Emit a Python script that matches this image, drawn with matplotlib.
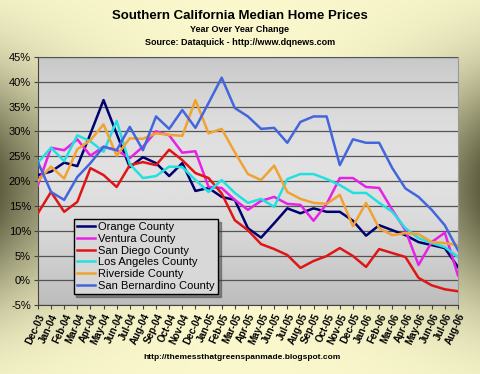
import numpy as np
import matplotlib
matplotlib.use("Agg")
import matplotlib.pyplot as plt

plt.rcParams['font.family'] = ['Liberation Sans', 'DejaVu Sans']

months = ['Dec-03', 'Jan-04', 'Feb-04', 'Mar-04', 'Apr-04', 'May-04', 'Jun-04', 'Jul-04',
          'Aug-04', 'Sep-04', 'Oct-04', 'Nov-04', 'Dec-04', 'Jan-05', 'Feb-05', 'Mar-05',
          'Apr-05', 'May-05', 'Jun-05', 'Jul-05', 'Aug-05', 'Sep-05', 'Oct-05', 'Nov-05',
          'Dec-05', 'Jan-06', 'Feb-06', 'Mar-06', 'Apr-06', 'May-06', 'Jun-06', 'Jul-06',
          'Aug-06']

# year over year change, percent
orange = [21.2, 21.9, 23.7, 23.0, 29.5, 36.3, 29.5, 22.8, 24.8, 23.6, 21.0, 23.6, 18.0,
          18.6, 16.8, 16.2, 10.5, 8.6, 11.5, 14.5, 13.5, 14.5, 13.8, 13.8, 12.0, 9.0,
          11.1, 10.1, 9.1, 7.7, 7.1, 6.5, 2.7]
ventura = [19.2, 26.7, 26.2, 28.4, 25.1, 26.9, 26.2, 24.6, 26.9, 30.0, 29.2, 25.7, 26.0,
           18.8, 18.6, 16.2, 14.2, 16.0, 16.8, 15.4, 15.2, 12.0, 15.4, 20.6, 20.6, 18.8,
           18.6, 14.2, 10.1, 3.1, 7.7, 9.6, 1.0]
san_diego = [13.5, 17.8, 13.8, 15.8, 22.6, 21.2, 18.8, 23.2, 23.8, 23.2, 26.3, 24.2, 21.6,
             20.6, 17.5, 12.1, 10.1, 7.3, 6.3, 5.1, 2.5, 3.9, 4.9, 6.5, 4.9, 2.7, 6.3,
             5.5, 4.7, 0.5, -1.0, -1.8, -2.2]
los_angeles = [23.7, 26.7, 24.0, 29.2, 28.0, 25.9, 32.1, 23.4, 20.6, 21.0, 22.9, 22.8, 20.2,
               17.8, 20.2, 17.6, 15.6, 16.4, 14.8, 20.4, 21.4, 21.4, 20.4, 19.2, 17.6, 17.6,
               15.6, 13.8, 10.5, 8.5, 7.5, 6.7, 4.7]
riverside = [20.0, 22.9, 20.5, 26.4, 28.2, 31.4, 25.1, 28.6, 28.5, 29.6, 29.3, 29.1, 36.3,
             29.6, 30.5, 25.8, 21.4, 20.2, 23.1, 17.8, 16.4, 15.6, 15.4, 17.2, 10.9, 15.6,
             10.5, 9.1, 9.5, 9.3, 7.7, 7.5, 7.1]
san_bernardino = [23.8, 17.8, 16.2, 20.8, 23.6, 26.9, 26.2, 30.9, 26.2, 33.0, 30.5, 34.3, 30.7,
                  35.7, 40.8, 34.7, 33.0, 30.5, 30.7, 27.7, 31.9, 33.0, 33.0, 23.2, 28.4, 27.7,
                  27.7, 22.6, 18.5, 16.8, 14.2, 11.1, 6.1]

series = [
    ('Orange County', orange, '#000070'),
    ('Ventura County', ventura, '#E622E6'),
    ('San Diego County', san_diego, '#E01515'),
    ('Los Angeles County', los_angeles, '#22E0E0'),
    ('Riverside County', riverside, '#F0A232'),
    ('San Bernardino County', san_bernardino, '#4466DD'),
]

fig = plt.figure(figsize=(4.8, 3.74), dpi=100)

# figure background: pale yellow with darker olive towards the sides
bg = fig.add_axes([0, 0, 1, 1], zorder=-10)
xx, yy = np.meshgrid(np.linspace(0, 1, 240), np.linspace(0, 1, 187))
dark = (np.abs(xx - 0.5) * 2) ** 2.3 * np.exp(-((yy - 0.5) / 0.3) ** 2)
light = np.array([0.98, 0.97, 0.80])
olive = np.array([0.38, 0.38, 0.26])
img = light * (1 - dark[..., None]) + olive * dark[..., None]
bg.imshow(img, aspect='auto', extent=[0, 1, 0, 1], origin='upper')
bg.axis('off')

ax = fig.add_axes([0.079, 0.184, 0.875, 0.664])

# plot area: gray gradient
g = np.linspace(0, 1, 100)[:, None]
shade = 0.74 + 0.14 * np.sin(g * np.pi * 0.9)
ax.imshow(np.repeat(shade, 2, axis=1), cmap='gray', vmin=0, vmax=1, aspect='auto',
          extent=[0, len(months) - 1, 45, -5], zorder=0)

x = np.arange(len(months))
for name, vals, col in series:
    ax.plot(x, vals, color=col, lw=1.8, label=name, zorder=3)

ax.set_xlim(0, len(months) - 1)
ax.set_ylim(-5, 45)
ax.set_yticks(np.arange(-5, 46, 5))
ax.set_yticklabels([f'{v}%' for v in range(-5, 46, 5)], fontsize=8)
ax.set_xticks(x)
ax.set_xticklabels(months, rotation=65, ha='right', rotation_mode='anchor',
                   fontsize=7, fontweight='bold')
ax.yaxis.grid(True, color='#555555', lw=0.9, zorder=1)
ax.set_axisbelow(False)
ax.tick_params(axis='both', length=3, width=0.8, color='#444444', pad=2)
for s in ['top', 'right']:
    ax.spines[s].set_color('#999999')
for s in ['left', 'bottom']:
    ax.spines[s].set_color('#444444')

leg = ax.legend(loc='lower left', bbox_to_anchor=(0.085, 0.045), fontsize=8,
                frameon=True, fancybox=False, shadow=True, handlelength=1.6,
                handletextpad=0.3, labelspacing=0.15, borderpad=0.3,
                borderaxespad=0)
leg.get_frame().set_facecolor('#D8D8D8')
leg.get_frame().set_edgecolor('black')
leg.get_frame().set_alpha(1)
leg.set_zorder(5)

fig.text(0.5, 0.958, 'Southern California Median Home Prices', ha='center', va='center',
         fontsize=9.5, fontweight='bold')
fig.text(0.5, 0.922, 'Year Over Year Change', ha='center', va='center',
         fontsize=6.5, fontweight='bold')
fig.text(0.5, 0.887, 'Source: Dataquick - http://www.dqnews.com', ha='center', va='center',
         fontsize=6.5, fontweight='bold')
fig.text(0.505, 0.043, 'http://themessthatgreenspanmade.blogspot.com', ha='center',
         va='center', fontsize=6, fontweight='bold')

fig.savefig('out.png', dpi=100)
